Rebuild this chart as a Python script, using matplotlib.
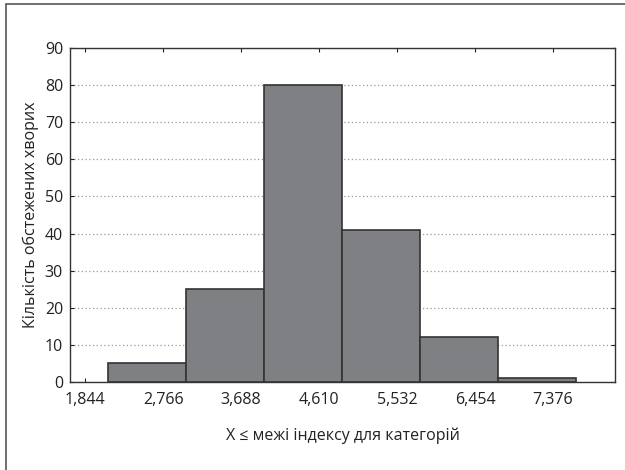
import matplotlib.pyplot as plt
from matplotlib.patches import Rectangle
import numpy as np

plt.rcParams['font.family'] = ['Open Sans', 'DejaVu Sans']

# tick labels on the x axis (category bounds)
tick_values = [1.844, 2.766, 3.688, 4.610, 5.532, 6.454, 7.376]
tick_labels = ["1,844", "2,766", "3,688", "4,610", "5,532", "6,454", "7,376"]
# left edges of the bars and their counts
bar_left = [2.116, 3.038, 3.960, 4.882, 5.804, 6.726]
counts = [5, 25, 80, 41, 12, 1]
bar_width = 0.922

fig = plt.figure(figsize=(6.25, 4.7), dpi=100)
# outer frame (open at right and bottom)
fig.add_artist(Rectangle((6/625, -0.1), 1.2, 1 - 4/470 + 0.1, transform=fig.transFigure,
                         fill=False, edgecolor='#555555', linewidth=1.2))

ax = fig.add_axes([70/625, 1 - 382/470, (615-70)/625, (382-48)/470])
ax.bar(bar_left, counts, width=bar_width, align='edge', color='#7f8084',
       edgecolor='#333333', linewidth=1.2, zorder=3)

ax.set_xlim(1.665, 8.109)
ax.set_ylim(0, 90)
ax.set_xticks(tick_values)
ax.set_xticklabels(tick_labels)
ax.set_yticks(np.arange(0, 91, 10))
ax.tick_params(direction='in', length=3, width=0.8, labelsize=11.5,
               top=True, right=True, colors='#222222', labelcolor='#222222')
ax.tick_params(axis='x', pad=7)
ax.tick_params(axis='y', pad=5)
ax.grid(axis='y', linestyle=(0, (1, 2)), color='#999999', linewidth=0.9, zorder=0)
for s in ax.spines.values():
    s.set_color('#333333')
    s.set_linewidth(1.0)

ax.set_ylabel("Кількість обстежених хворих", fontsize=11.5, color='#222222', labelpad=4)
ax.set_xlabel("X ≤ межі індексу для категорій", fontsize=11.5, color='#222222', labelpad=14)

fig.savefig("out.png", dpi=100)
